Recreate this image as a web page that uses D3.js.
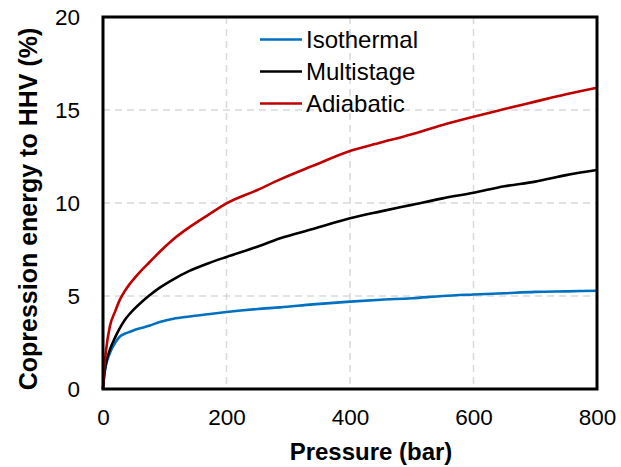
<!DOCTYPE html>
<html>
<head>
<meta charset="utf-8">
<script src="https://cdn.jsdelivr.net/npm/d3@7"></script>
<style>
  body { margin: 0; background: #fff; }
  text { font-family: Arial, "Liberation Sans", sans-serif; }
</style>
</head>
<body>
<svg id="chart" width="621" height="467"></svg>
<script>
// pressure in bar
var pressure = [0, 2, 5, 11, 20, 27, 35, 44, 52, 60, 76, 92, 114, 140, 170, 200, 250, 287, 340, 400, 450, 500, 550, 600, 650, 700, 750, 800];
var isothermal = [0, 0.7, 1.3, 1.92, 2.5, 2.81, 2.97, 3.08, 3.18, 3.26, 3.42, 3.6, 3.78, 3.9, 4.02, 4.14, 4.3, 4.39, 4.55, 4.7, 4.8, 4.88, 5.0, 5.08, 5.15, 5.22, 5.25, 5.28];
var multistage = [0, 0.8, 1.4, 2.1, 2.8, 3.26, 3.7, 4.07, 4.35, 4.6, 5.05, 5.45, 5.9, 6.35, 6.75, 7.1, 7.65, 8.1, 8.6, 9.18, 9.55, 9.9, 10.25, 10.55, 10.9, 11.15, 11.5, 11.77];
var adiabatic = [0, 1.1, 2.1, 3.35, 4.2, 4.78, 5.25, 5.68, 6.0, 6.3, 6.84, 7.38, 8.05, 8.7, 9.35, 9.98, 10.7, 11.27, 12.0, 12.8, 13.25, 13.7, 14.2, 14.64, 15.05, 15.45, 15.85, 16.2];
var seriesNames = ['Isothermal', 'Multistage', 'Adiabatic'];
var seriesColors = ['#0070c0', '#000000', '#c00000'];
var xTicks = [0, 200, 400, 600, 800];
var yTicks = [0, 5, 10, 15, 20];

var svg = d3.select('#chart');
var plotL = 103, plotR = 597, plotT = 17, plotB = 389;

var x = d3.scaleLinear().domain([0, 800]).range([plotL, plotR]);
var y = d3.scaleLinear().domain([0, 20]).range([plotB, plotT]);

// grid
svg.append('g').selectAll('line')
  .data(xTicks.slice(1, -1)).enter().append('line')
  .attr('x1', function(d) { return x(d); }).attr('x2', function(d) { return x(d); })
  .attr('y1', plotT).attr('y2', plotB)
  .attr('stroke', '#d9d9d9').attr('stroke-width', 1.5).attr('stroke-dasharray', '7,5');
svg.append('g').selectAll('line')
  .data(yTicks.slice(1, -1)).enter().append('line')
  .attr('y1', function(d) { return y(d); }).attr('y2', function(d) { return y(d); })
  .attr('x1', plotL).attr('x2', plotR)
  .attr('stroke', '#d9d9d9').attr('stroke-width', 1.5).attr('stroke-dasharray', '7,5');

// axes (labels only; box drawn separately)
var xAxis = svg.append('g').attr('transform', 'translate(0,' + plotB + ')')
  .call(d3.axisBottom(x).tickValues(xTicks).tickSize(0).tickPadding(20));
var yAxis = svg.append('g').attr('transform', 'translate(' + plotL + ',0)')
  .call(d3.axisLeft(y).tickValues(yTicks).tickSize(0).tickPadding(23));
[xAxis, yAxis].forEach(function(a) {
  a.select('.domain').remove();
  a.selectAll('text').attr('font-size', 22.5).attr('fill', '#000')
    .attr('font-family', 'Arial, "Liberation Sans", sans-serif');
});

// series
var series = [isothermal, multistage, adiabatic];
var line = d3.line()
  .x(function(d, i) { return x(pressure[i]); })
  .y(function(d) { return y(d); })
  .curve(d3.curveMonotoneX);
svg.append('g').selectAll('path')
  .data(series).enter().append('path')
  .attr('d', line)
  .attr('fill', 'none')
  .attr('stroke', function(d, i) { return seriesColors[i]; })
  .attr('stroke-width', 2.6)
  .attr('stroke-linejoin', 'round');

// frame
svg.append('rect')
  .attr('x', plotL).attr('y', plotT)
  .attr('width', plotR - plotL).attr('height', plotB - plotT)
  .attr('fill', 'none').attr('stroke', '#000').attr('stroke-width', 3);

// legend
var legend = svg.append('g').selectAll('g')
  .data(seriesNames).enter().append('g')
  .attr('transform', function(d, i) { return 'translate(260,' + (39.5 + i * 32) + ')'; });
legend.append('line')
  .attr('x1', 0).attr('x2', 42)
  .attr('stroke', function(d, i) { return seriesColors[i]; })
  .attr('stroke-width', 2.6);
legend.append('text')
  .attr('x', 46).attr('dy', '0.35em')
  .attr('font-size', 24).attr('fill', '#000')
  .text(function(d) { return d; });

// titles
svg.append('text')
  .attr('x', 371).attr('y', 460)
  .attr('text-anchor', 'middle')
  .attr('font-size', 24).attr('font-weight', 'bold')
  .text('Pressure (bar)');
svg.append('text')
  .attr('transform', 'translate(37,209) rotate(-90)')
  .attr('text-anchor', 'middle')
  .attr('font-size', 25).attr('font-weight', 'bold')
  .text('Copression energy to HHV (%)');
</script>
</body>
</html>
